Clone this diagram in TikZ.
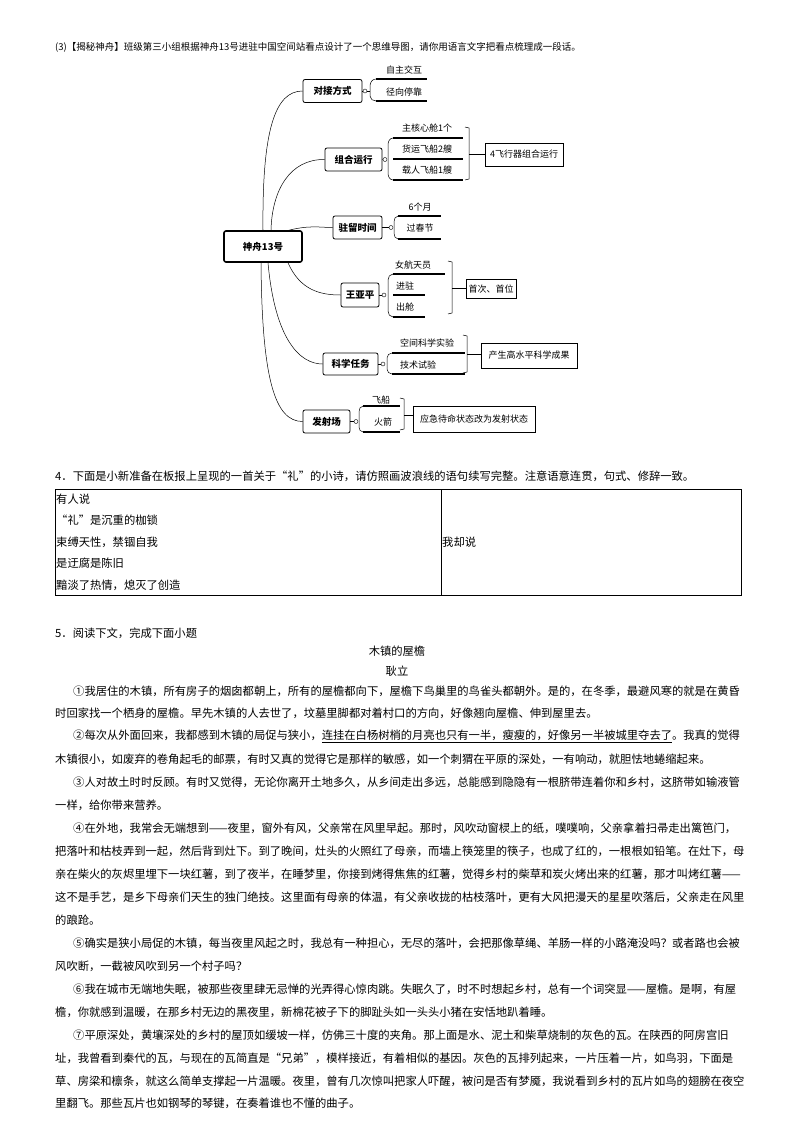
\documentclass[tikz,border=0pt]{standalone}
\usepackage{fontspec}
\setmainfont{Noto Sans CJK SC}
\newcommand\myul[1]{$\underline{\hbox{#1}}$}
\XeTeXlinebreaklocale "zh"
\XeTeXlinebreakskip=0pt plus 3pt
\begin{document}
\begin{tikzpicture}[x=1pt,y=-1pt,
 t/.style={anchor=west,inner sep=0pt,font=\fontsize{11.3}{12}\selectfont},
 mm/.style={inner sep=0pt,font=\fontsize{9}{10}\selectfont},
 topic/.style={draw,rounded corners=2pt,thick,inner sep=0pt,font=\fontsize{9.5}{10}\bfseries\selectfont},
 sbox/.style={draw,inner sep=0pt,font=\fontsize{9}{10}\selectfont},
 ul/.style={line width=1.1pt},
 ln/.style={line width=0.5pt}]
\useasboundingbox (0,0) rectangle (794,1124);
\fill[white] (0,0) rectangle (794,1124);
\node[t,font=\fontsize{9.5}{10}\selectfont] (q3) at (55,47) {(3)【揭秘神舟】班级第三小组根据神舟13号进驻中国空间站看点设计了一个思维导图，请你用语言文字把看点梳理成一段话。};
% mind map
\node[topic,minimum width=78pt,minimum height=31pt,line width=1.6pt] (root) at (263,246.5) {神舟13号};
\node[topic,minimum width=59pt,minimum height=23pt] (a) at (332.5,91) {对接方式};
\node[topic,minimum width=57pt,minimum height=23pt] (b) at (353.5,159.5) {组合运行};
\node[topic,minimum width=49pt,minimum height=23pt] (c) at (357.5,227.5) {驻留时间};
\node[topic,minimum width=38pt,minimum height=24pt] (d) at (360,295) {王亚平};
\node[topic,minimum width=55pt,minimum height=22pt] (e) at (350.5,364) {科学任务};
\node[topic,minimum width=47pt,minimum height=23pt] (f) at (326.5,421.5) {发射场};
\draw[ln] (root.north) .. controls (262,130) and (275,91) .. (a.west);
\draw[ln] ([xshift=8pt]root.north) .. controls (272,190) and (290,159) .. (b.west);
\draw[ln] ([xshift=26pt]root.north) .. controls (310,225) and (320,227.5) .. (c.west);
\draw[ln] ([xshift=25pt]root.south) .. controls (300,290) and (320,295) .. (d.west);
\draw[ln] ([xshift=5pt]root.south) .. controls (275,340) and (300,364) .. (e.west);
\draw[ln] ([xshift=-2pt]root.south) .. controls (262,380) and (275,421.5) .. (f.west);
% a items
\node[mm] (a1) at (404,70) {自主交互};
\node[mm] (a2) at (404,92) {径向停靠};
\draw[ul] (376,79) -- (427,79); \draw[ul] (376,101) -- (427,101);
\draw[ln] (a.east) -- (363,91);
\node[draw,circle,inner sep=0pt,minimum size=4pt,fill=white] at (365,91) {};
\draw[ln] (367,91) -- (370,91);
\draw[ln] (376,79) to[out=180,in=90] (370,86) -- (370,96) to[out=-90,in=180] (376,101);
% b items
\node[mm] (b1) at (427,128) {主核心舱1个};
\node[mm] (b2) at (427,149) {货运飞船2艘};
\node[mm] (b3) at (427,170) {载人飞船1艘};
\draw[ul] (393,138) -- (463,138); \draw[ul] (393,159) -- (463,159); \draw[ul] (393,180) -- (463,180);
\draw[ln] (b.east) -- (383,159);
\node[draw,circle,inner sep=0pt,minimum size=4pt,fill=white] at (385,159.5) {};
\draw[ln] (393,138) to[out=180,in=90] (388,145) -- (388,173) to[out=-90,in=180] (393,180);
\draw[ln] (465,127) -- (469,128) -- (469,179) -- (465,180); \draw[ln] (469,154) -- (485,154);
\node[sbox,minimum width=78pt,minimum height=23pt] (bb) at (524,154.5) {4飞行器组合运行};
% c items
\node[mm] (c1) at (420,207) {6个月};
\node[mm] (c2) at (420,228) {过春节};
\draw[ul] (398,216) -- (441,216); \draw[ul] (398,239) -- (441,239);
\node[draw,circle,inner sep=0pt,minimum size=4pt,fill=white] at (391,227.5) {};
\draw[ln] (c.east) -- (389,227.5);
\draw[ln] (398,216) to[out=180,in=90] (394,222) -- (394,233) to[out=-90,in=180] (398,239);
% d items
\node[mm] (d1) at (413,265) {女航天员};
\node[mm] (d2) at (405,286) {进驻};
\node[mm] (d3) at (405,307) {出舱};
\draw[ul] (393,274) -- (445,274); \draw[ul] (393,295) -- (425,295); \draw[ul] (393,317) -- (425,317);
\draw[ln] (d.east) -- (382,295);
\node[draw,circle,inner sep=0pt,minimum size=4pt,fill=white] at (384,295) {};
\draw[ln] (393,274) to[out=180,in=90] (388,280) -- (388,311) to[out=-90,in=180] (393,317);
\draw[ln] (448,261) -- (452,262) -- (452,313) -- (448,314); \draw[ln] (452,288) -- (466,288);
\node[sbox,minimum width=50pt,minimum height=19pt] (dd) at (491,289) {首次、首位};
% e items
\node[mm] (e1) at (427,343) {空间科学实验};
\node[mm] (e2) at (418,365) {技术试验};
\draw[ul] (392,353) -- (465,353); \draw[ul] (392,374) -- (465,374);
\draw[ln] (e.east) -- (381,364);
\node[draw,circle,inner sep=0pt,minimum size=4pt,fill=white] at (383,364) {};
\draw[ln] (392,353) to[out=180,in=90] (387,358) -- (387,369) to[out=-90,in=180] (392,374);
\draw[ln] (463,335) -- (467,336) -- (467,372) -- (463,373); \draw[ln] (467,354) -- (481,354);
\node[sbox,minimum width=96pt,minimum height=25pt] (ee) at (529,355.5) {产生高水平科学成果};
% f items
\node[mm] (f1) at (381,400) {飞船};
\node[mm] (f2) at (383,422) {火箭};
\draw[ul] (363,406) -- (400,406); \draw[ul] (363,432) -- (400,432);
\draw[ln] (f.east) -- (354,421.5);
\node[draw,circle,inner sep=0pt,minimum size=4pt,fill=white] at (356,421.5) {};
\draw[ln] (363,406) to[out=180,in=90] (359,412) -- (359,427) to[out=-90,in=180] (363,432);
\draw[ln] (400,398) -- (404,399) -- (404,429) -- (400,430); \draw[ln] (404,415) -- (413,415);
\node[sbox,minimum width=122pt,minimum height=26pt] (ff) at (474,419) {应急待命状态改为发射状态};
% question 4
\node[t] (q4) at (55,476) {\hbox to 682pt{4．下面是小新准备在板报上呈现的一首关于“礼”的小诗，请仿照画波浪线的语句续写完整。注意语意连贯，句式、修辞一致。}};
\draw[line width=0.6pt] (55,489) rectangle (741,595);
\draw[line width=0.6pt] (441,489) -- (441,595);
\node[t] (r1) at (56,499) {有人说};
\node[t] (r2) at (56,520) {“礼”是沉重的枷锁};
\node[t] (r3) at (56,542) {束缚天性，禁锢自我};
\node[t] (r4) at (56,563) {是迂腐是陈旧};
\node[t] (r5) at (56,585) {黯淡了热情，熄灭了创造};
\node[t] (r6) at (442,542) {我却说};
% question 5
\node[t] (q5) at (55,633) {5．阅读下文，完成下面小题};
\node[t,anchor=center] (title) at (397,651) {木镇的屋檐};
\node[t,anchor=center] (auth) at (397,671) {耿立};
\node[t] (l1) at (73,691) {\hbox to 664pt{①我居住的木镇，所有房子的烟囱都朝上，所有的屋檐都向下，屋檐下鸟巢里的鸟雀头都朝外。是的，在冬季，最避风寒的就是在黄昏}};
\node[t] (l2) at (55,713) {时回家找一个栖身的屋檐。早先木镇的人去世了，坟墓里脚都对着村口的方向，好像翘向屋檐、伸到屋里去。};
\node[t] (l3) at (73,736) {\hbox to 664pt{②每次从外面回来，我都感到木镇的局促与狭小，\myul{连挂在白杨树梢的月亮也只有一半，瘦瘦的，好像另一半被城里夺去了}。我真的觉得}};
\node[t] (l4) at (55,759) {木镇很小，如废弃的卷角起毛的邮票，有时又真的觉得它是那样的敏感，如一个刺猬在平原的深处，一有响动，就胆怯地蜷缩起来。};
\node[t] (l5) at (73,782) {\hbox to 664pt{③人对故土时时反顾。有时又觉得，无论你离开土地多久，从乡间走出多远，总能感到隐隐有一根脐带连着你和乡村，这脐带如输液管}};
\node[t] (l6) at (55,805) {一样，给你带来营养。};
\node[t] (l7) at (73,828) {\hbox to 664pt{④在外地，我常会无端想到——夜里，窗外有风，父亲常在风里早起。那时，风吹动窗棂上的纸，噗噗响，父亲拿着扫帚走出篱笆门，}};
\node[t] (l8) at (55,851) {\hbox to 682pt{把落叶和枯枝弄到一起，然后背到灶下。到了晚间，灶头的火照红了母亲，而墙上筷笼里的筷子，也成了红的，一根根如铅笔。在灶下，母}};
\node[t] (l9) at (55,874) {\hbox to 682pt{亲在柴火的灰烬里埋下一块红薯，到了夜半，在睡梦里，你接到烤得焦焦的红薯，觉得乡村的柴草和炭火烤出来的红薯，那才叫烤红薯——}};
\node[t] (l10) at (55,897) {\hbox to 682pt{这不是手艺，是乡下母亲们天生的独门绝技。这里面有母亲的体温，有父亲收拢的枯枝落叶，更有大风把漫天的星星吹落后，父亲走在风里}};
\node[t] (l11) at (55,920) {的踉跄。};
\node[t] (l12) at (73,943) {\hbox to 664pt{⑤确实是狭小局促的木镇，每当夜里风起之时，我总有一种担心，无尽的落叶，会把那像草绳、羊肠一样的小路淹没吗？或者路也会被}};
\node[t] (l13) at (55,966) {风吹断，一截被风吹到另一个村子吗？};
\node[t] (l14) at (73,989) {\hbox to 664pt{⑥我在城市无端地失眠，被那些夜里肆无忌惮的光弄得心惊肉跳。失眠久了，时不时想起乡村，总有一个词突显——屋檐。是啊，有屋}};
\node[t] (l15) at (55,1012) {檐，你就感到温暖，在那乡村无边的黑夜里，新棉花被子下的脚趾头如一头头小猪在安恬地趴着睡。};
\node[t] (l16) at (73,1035) {\hbox to 664pt{⑦平原深处，黄壤深处的乡村的屋顶如缓坡一样，仿佛三十度的夹角。那上面是水、泥土和柴草烧制的灰色的瓦。在陕西的阿房宫旧}};
\node[t] (l17) at (55,1058) {\hbox to 682pt{址，我曾看到秦代的瓦，与现在的瓦简直是“兄弟”，模样接近，有着相似的基因。灰色的瓦排列起来，一片压着一片，如鸟羽，下面是}};
\node[t] (l18) at (55,1081) {\hbox to 682pt{草、房梁和檩条，就这么简单支撑起一片温暖。夜里，曾有几次惊叫把家人吓醒，被问是否有梦魇，我说看到乡村的瓦片如鸟的翅膀在夜空}};
\node[t] (l19) at (55,1103) {里翻飞。那些瓦片也如钢琴的琴键，在奏着谁也不懂的曲子。};
\end{tikzpicture}
\end{document}
